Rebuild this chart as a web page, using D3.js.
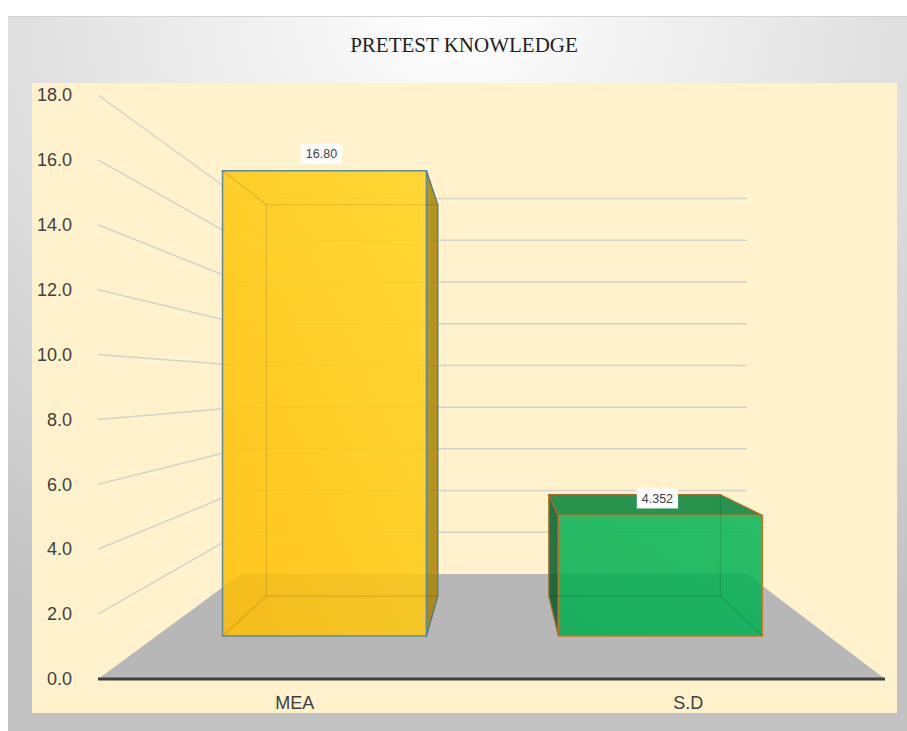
<!DOCTYPE html>
<html>
<head>
<meta charset="utf-8">
<script src="https://cdn.jsdelivr.net/npm/d3@7"></script>
<style>
  html, body { margin: 0; padding: 0; background: #ffffff; }
  svg { display: block; }
</style>
</head>
<body>
<svg id="chart" width="907" height="731"></svg>
<script>
// ---- data ----
const categories = ["MEA", "S.D"];
const values = [16.80, 4.352];
const valueLabels = ["16.80", "4.352"];
const yTicks = [0, 2, 4, 6, 8, 10, 12, 14, 16, 18];
const chartTitle = "PRETEST KNOWLEDGE";

// ---- styles ----
const barFill = ["#FFC000", "#00B050"];
const barSide = ["#A88300", "#005E2A"];
const barTop = ["#C89A00", "#00833A"];
const barStroke = ["#5A8AA2", "#C8742A"];
const barAlpha = 0.85;

const svg = d3.select("#chart");
const defs = svg.append("defs");

const bgGrad = defs.append("radialGradient").attr("id", "bgGrad")
  .attr("cx", "50%").attr("cy", "0%").attr("r", "95%");
bgGrad.append("stop").attr("offset", "0%").attr("stop-color", "#FFFFFF");
bgGrad.append("stop").attr("offset", "100%").attr("stop-color", "#C2C2C2");

const yGrad = defs.append("linearGradient").attr("id", "yGrad")
  .attr("x1", "0%").attr("y1", "100%").attr("x2", "100%").attr("y2", "0%");
yGrad.append("stop").attr("offset", "0%").attr("stop-color", "#FFBE00");
yGrad.append("stop").attr("offset", "100%").attr("stop-color", "#FFD21A");
const gGrad = defs.append("linearGradient").attr("id", "gGrad")
  .attr("x1", "0%").attr("y1", "100%").attr("x2", "100%").attr("y2", "0%");
gGrad.append("stop").attr("offset", "0%").attr("stop-color", "#00AC4C");
gGrad.append("stop").attr("offset", "100%").attr("stop-color", "#02B456");
const frontFills = ["url(#yGrad)", "url(#gGrad)"];

// outer chart area
svg.append("rect").attr("x", 8).attr("y", 16).attr("width", 899).attr("height", 715)
  .attr("fill", "url(#bgGrad)");
svg.append("line").attr("x1", 8).attr("x2", 907).attr("y1", 16.5).attr("y2", 16.5)
  .attr("stroke", "#D4D4D4").attr("stroke-width", 1);
// plot area
svg.append("rect").attr("x", 32).attr("y", 83).attr("width", 865).attr("height", 630)
  .attr("fill", "#FFF2CC");

// title
svg.append("text").attr("x", 464).attr("y", 52).attr("text-anchor", "middle")
  .attr("font-family", "'Liberation Serif', 'Times New Roman', serif")
  .attr("font-size", 21).attr("fill", "#1F1F1F").text(chartTitle);

// ---- scales ----
const x = d3.scaleBand().domain(categories).range([98, 885]).padding(0);
const y = d3.scaleLinear().domain([0, 18]).range([679, 95]);

// perspective
const VP = [498, 385];
const dWall = 0.357, dFront = 0.1463, dBack = 0.282;
function proj(xf, v, d) {
  const yf = y(v);
  return [xf + (VP[0] - xf) * d, yf + (VP[1] - yf) * d];
}
const x0 = x.range()[0], x1 = x.range()[1];

// gridlines: left wall and back wall
const grid = svg.append("g").attr("stroke", "#D6D3CB").attr("stroke-width", 1.5).attr("fill", "none");
yTicks.filter(v => v > 0).forEach(v => {
  const a = proj(x0, v, 0), b = proj(x0, v, dWall), c = proj(x1, v, dWall);
  grid.append("path").attr("d", d3.line()([a, b, c]));
});

// floor
const floorPts = [proj(x0, 0, 0), proj(x1, 0, 0), proj(x1, 0, dWall), proj(x0, 0, dWall)];
svg.append("path").attr("d", d3.line()(floorPts) + "Z").attr("fill", "#B7B7B7");

// axis base line
svg.append("line").attr("x1", x0).attr("x2", x1).attr("y1", y(0)).attr("y2", y(0))
  .attr("stroke", "#404040").attr("stroke-width", 3);

// y axis labels
const yAxis = d3.axisLeft(y).tickValues(yTicks).tickSize(0).tickPadding(8)
  .tickFormat(d3.format(".1f"));
const gy = svg.append("g").attr("transform", "translate(80,0)").call(yAxis);
gy.select(".domain").remove();
gy.selectAll("text").attr("font-family", "Arial, 'Liberation Sans', sans-serif")
  .attr("font-size", 18).attr("fill", "#404040");

// x axis labels
const xAxis = d3.axisBottom(x).tickSize(0).tickPadding(17);
const gx = svg.append("g").attr("transform", `translate(0,${y(0)})`).call(xAxis);
gx.select(".domain").remove();
gx.selectAll("text").attr("font-family", "Arial, 'Liberation Sans', sans-serif")
  .attr("font-size", 18).attr("fill", "#404040");

// ---- bars ----
const barFrac = 0.607;
const line = d3.line();
categories.forEach((c, i) => {
  const v = values[i];
  const cx = x(c) + x.bandwidth() / 2;
  const hw = x.bandwidth() * barFrac / 2;
  const xl = cx - hw, xr = cx + hw;
  const F = { tl: proj(xl, v, dFront), tr: proj(xr, v, dFront), bl: proj(xl, 0, dFront), br: proj(xr, 0, dFront) };
  const B = { tl: proj(xl, v, dBack), tr: proj(xr, v, dBack), bl: proj(xl, 0, dBack), br: proj(xr, 0, dBack) };
  const g = svg.append("g");

  // visible side faces
  if (xr < VP[0]) {
    g.append("path").attr("d", line([F.tr, B.tr, B.br, F.br]) + "Z")
      .attr("fill", barSide[i]).attr("fill-opacity", barAlpha)
      .attr("stroke", barStroke[i]).attr("stroke-width", 1.3).attr("stroke-linejoin", "round");
  }
  if (xl > VP[0]) {
    g.append("path").attr("d", line([F.tl, B.tl, B.bl, F.bl]) + "Z")
      .attr("fill", barSide[i]).attr("fill-opacity", barAlpha)
      .attr("stroke", barStroke[i]).attr("stroke-width", 1.3).attr("stroke-linejoin", "round");
  }
  if (y(v) > VP[1]) {
    g.append("path").attr("d", line([F.tl, B.tl, B.tr, F.tr]) + "Z")
      .attr("fill", barTop[i]).attr("fill-opacity", barAlpha)
      .attr("stroke", barStroke[i]).attr("stroke-width", 1.3).attr("stroke-linejoin", "round");
  }
  // front face
  g.append("path").attr("d", line([F.tl, F.tr, F.br, F.bl]) + "Z")
    .attr("fill", frontFills[i]).attr("fill-opacity", barAlpha)
    .attr("stroke", barStroke[i]).attr("stroke-width", 1.5).attr("stroke-linejoin", "round");
  // hidden edges seen through
  const hidden = g.append("g").attr("stroke", "#000").attr("stroke-opacity", 0.12)
    .attr("stroke-width", 1.2).attr("fill", "none");
  hidden.append("path").attr("d", line([B.tl, B.tr, B.br, B.bl]) + "Z");
  ["tl", "tr", "bl", "br"].forEach(k => {
    hidden.append("path").attr("d", line([F[k], B[k]]));
  });

  // data label
  const lx = (F.tl[0] + F.tr[0]) / 2 - 3;
  const ly = F.tl[1] - 17;
  const lg = svg.append("g");
  const rect = lg.append("rect").attr("fill", "#FFFFFF");
  const t = lg.append("text").attr("x", lx).attr("y", ly).attr("dy", "0.35em")
    .attr("text-anchor", "middle").attr("font-family", "Arial, 'Liberation Sans', sans-serif")
    .attr("font-size", 12.5).attr("fill", "#404040").text(valueLabels[i]);
  const tw = t.node().getComputedTextLength();
  rect.attr("x", lx - tw / 2 - 5).attr("y", ly - 10).attr("width", tw + 10).attr("height", 20);
});
</script>
</body>
</html>
